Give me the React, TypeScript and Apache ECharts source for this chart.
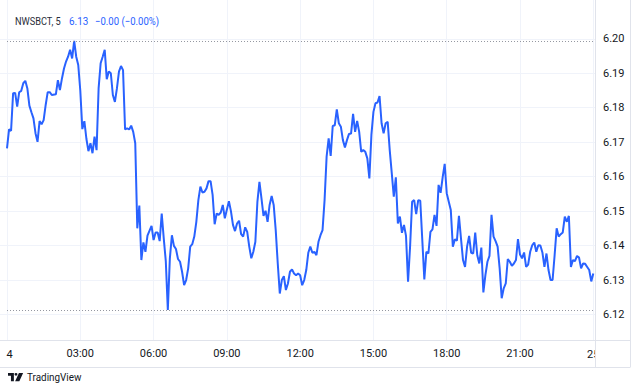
import React, { useEffect, useRef } from "react";
import * as echarts from "echarts";

const SYMBOL_LABEL = "NWSBCT, 5";
const LAST_PRICE = "6.13";
const CHANGE_LABEL = "\u22120.00 (\u22120.00%)";
const BRAND = "TradingView";
// time-axis labels, one every 36 five-minute bars (3 hours)
const TIME_LABELS = ["4", "03:00", "06:00", "09:00", "12:00", "15:00", "18:00", "21:00", "25"];
const BARS_PER_LABEL = 36;
const PRICE_MIN = 6.12;
const PRICE_MAX = 6.2;
const PRICE_STEP = 0.01;

// five-minute bar index since 00:00
const BARS = [
  0, 1, 2, 3, 4, 5, 6, 7, 8, 9, 10, 11, 12, 13, 14, 15, 16, 17, 18, 19, 20, 21, 22, 24, 25, 26, 27, 28, 29,
  30, 31, 32, 33, 34, 35, 36, 37, 38, 39, 40, 41, 42, 43, 44, 45, 46, 47, 48, 49, 50, 51, 52, 53, 54, 55, 56,
  57, 58, 59, 60, 61, 62, 63, 64, 65, 66, 67, 68, 69, 71, 72, 73, 74, 75, 76, 77, 78, 79, 80, 81, 82, 83, 84,
  85, 86, 87, 88, 89, 90, 91, 92, 93, 94, 95, 96, 97, 98, 99, 100, 101, 102, 103, 104, 105, 106, 107, 109,
  110, 111, 112, 113, 114, 115, 116, 117, 118, 119, 120, 121, 122, 123, 124, 125, 126, 127, 128, 129, 130,
  131, 132, 133, 134, 135, 136, 137, 138, 139, 140, 141, 142, 143, 144, 145, 146, 147, 148, 149, 150, 151,
  152, 153, 154, 155, 156, 157, 158, 159, 160, 161, 162, 163, 164, 165, 166, 167, 168, 169, 170, 171, 172,
  173, 174, 175, 176, 177, 178, 179, 180, 181, 182, 183, 184, 185, 186, 187, 188, 189, 190, 191, 192, 193,
  194, 195, 196, 197, 198, 199, 200, 201, 202, 203, 205, 206, 207, 208, 209, 210, 211, 212, 213, 214, 215,
  216, 217, 218, 219, 220, 221, 222, 223, 224, 225, 226, 227, 228, 229, 230, 231, 232, 233, 234, 235, 236,
  237, 238, 239, 240, 241, 242, 243, 244, 245, 246, 247, 248, 249, 250, 251, 252, 253, 254, 255, 256, 257,
  258, 259, 260, 261, 262, 263, 264, 265, 266, 267, 268, 269, 270, 271, 272, 273, 274, 275, 276, 277, 278,
  279, 280, 281, 282, 283, 284, 285, 286, 287, 288,
];

const PRICES = [
  6.1682, 6.1737, 6.1733, 6.1842, 6.1843, 6.1803, 6.1845, 6.1849, 6.1871, 6.1878, 6.1856, 6.1806, 6.1787,
  6.1769, 6.1726, 6.1701, 6.1761, 6.1752, 6.1764, 6.1808, 6.1845, 6.1845, 6.1837, 6.1839, 6.188, 6.1851,
  6.1885, 6.1914, 6.1934, 6.1948, 6.1968, 6.1943, 6.1994, 6.1948, 6.1924, 6.185, 6.1738, 6.1761, 6.171,
  6.1674, 6.1697, 6.1668, 6.1716, 6.1677, 6.1856, 6.1929, 6.1948, 6.1968, 6.1883, 6.1905, 6.19, 6.1837,
  6.1817, 6.1856, 6.1905, 6.1921, 6.1909, 6.1737, 6.174, 6.1737, 6.1748, 6.173, 6.1697, 6.145, 6.1516,
  6.1358, 6.1409, 6.1382, 6.1429, 6.1457, 6.1416, 6.1438, 6.1438, 6.1413, 6.1493, 6.1421, 6.1355, 6.1213,
  6.1363, 6.143, 6.1399, 6.139, 6.1361, 6.1353, 6.1324, 6.1285, 6.13, 6.1334, 6.1397, 6.1404, 6.1426,
  6.1469, 6.1532, 6.1571, 6.1554, 6.1556, 6.1566, 6.1587, 6.1587, 6.1547, 6.1462, 6.1493, 6.1489, 6.1496,
  6.1518, 6.1479, 6.1529, 6.15, 6.146, 6.1442, 6.1464, 6.1472, 6.1433, 6.1426, 6.1453, 6.144, 6.1397,
  6.1363, 6.1382, 6.1411, 6.1527, 6.1585, 6.1537, 6.1486, 6.1501, 6.1469, 6.1518, 6.1544, 6.1518, 6.1445,
  6.1348, 6.1261, 6.13, 6.1311, 6.1271, 6.129, 6.1324, 6.1331, 6.1319, 6.1314, 6.1319, 6.1314, 6.1285,
  6.13, 6.1329, 6.1379, 6.1397, 6.1379, 6.1382, 6.1372, 6.1411, 6.143, 6.1445, 6.1532, 6.1658, 6.1711,
  6.166, 6.1747, 6.1749, 6.1795, 6.1755, 6.1745, 6.1706, 6.1685, 6.1706, 6.1724, 6.1725, 6.1782, 6.173,
  6.1762, 6.173, 6.1672, 6.1677, 6.1672, 6.1653, 6.1595, 6.1721, 6.1788, 6.1813, 6.1815, 6.1834, 6.1755,
  6.1726, 6.1755, 6.1759, 6.1677, 6.161, 6.1542, 6.1598, 6.1464, 6.1484, 6.1437, 6.146, 6.1428, 6.1295,
  6.1397, 6.1527, 6.1532, 6.1491, 6.1532, 6.153, 6.1302, 6.1382, 6.1377, 6.144, 6.1447, 6.1489, 6.1457,
  6.1576, 6.1553, 6.1598, 6.1637, 6.1552, 6.1527, 6.1503, 6.1397, 6.1418, 6.1414, 6.1486, 6.1421, 6.1358,
  6.1338, 6.1397, 6.1428, 6.1379, 6.1377, 6.1438, 6.1372, 6.1348, 6.1394, 6.1264, 6.1314, 6.1353, 6.137,
  6.1489, 6.1426, 6.1413, 6.1397, 6.1334, 6.1247, 6.1276, 6.129, 6.1361, 6.1353, 6.1341, 6.1348, 6.1358,
  6.1419, 6.1374, 6.1363, 6.138, 6.1338, 6.1345, 6.1382, 6.1401, 6.1409, 6.1382, 6.1401, 6.14, 6.138,
  6.1338, 6.1377, 6.1329, 6.13, 6.13, 6.1372, 6.145, 6.1426, 6.1433, 6.1438, 6.1484, 6.1469, 6.1486,
  6.1338, 6.1358, 6.1355, 6.137, 6.1365, 6.1334, 6.1348, 6.1347, 6.1338, 6.1329, 6.1296, 6.1319,
];

const FONT = "Roboto, 'Noto Sans', sans-serif";
const TEXT_COLOR = "#131722";
const BLUE = "#2962FF";
const GRID_COLOR = "#F0F3FA";
const BORDER_COLOR = "#E0E3EB";

echarts.graphic.registerShape(
  "tvlogo",
  echarts.graphic.extendPath(
    "M0 0H14V22H7V7H0Z M15.5 3.5a3.5 3.5 0 1 0 7 0a3.5 3.5 0 1 0 -7 0Z M26 0H36L27 22H17Z",
    {}
  )
);

export default function App() {
  const ref = useRef<HTMLDivElement>(null);

  useEffect(() => {
    if (!ref.current) return;
    const chart = echarts.init(ref.current, undefined, { renderer: "svg" });

    const W = 640;
    const H = 391;
    const paneRight = 595; // right edge of plot pane
    const paneBottom = 340; // bottom edge of plot pane
    const x0 = 7; // pixel of bar 0
    const lastBar = TIME_LABELS.length - 1;
    const xEnd = 593.3; // pixel of last label bar
    const yTop = 38.8; // pixel of PRICE_MAX
    const yBottom = 314.5; // pixel of PRICE_MIN
    const pxPerBar = (xEnd - x0) / (lastBar * BARS_PER_LABEL);

    const data = BARS.map((b, i) => [b, PRICES[i]]);
    const hi = Math.max(...PRICES);
    const lo = Math.min(...PRICES);
    const firstBar = BARS[0];
    const endBar = BARS[BARS.length - 1];

    const legendText = (text: string, x: number, fill: string, sx: number) => ({
      type: "text",
      x,
      y: 21,
      z: 100,
      scaleX: sx,
      style: { text, fill, fontSize: 11, fontFamily: FONT, verticalAlign: "middle" },
    });

    const option: any = {
      animation: false,
      backgroundColor: "#ffffff",
      grid: [
        { left: x0, right: W - xEnd, top: 0, bottom: H - paneBottom, containLabel: false },
        { left: 0, right: W - paneRight, top: yTop, bottom: H - yBottom, containLabel: false },
      ],
      xAxis: [
        {
          type: "value",
          gridIndex: 0,
          min: 0,
          max: lastBar * BARS_PER_LABEL,
          interval: BARS_PER_LABEL,
          axisLine: { show: false },
          axisTick: { show: false },
          splitLine: { show: true, lineStyle: { color: GRID_COLOR, width: 1 } },
          axisLabel: {
            show: true,
            margin: 8,
            color: TEXT_COLOR,
            fontSize: 11,
            fontFamily: FONT,
            formatter: (v: number) => {
              const k = Math.round(v / BARS_PER_LABEL);
              if (k === 0 || k === lastBar) return "";
              return TIME_LABELS[k];
            },
          },
        },
        {
          type: "value",
          gridIndex: 1,
          min: -x0 / pxPerBar,
          max: (paneRight - x0) / pxPerBar,
          show: false,
          splitLine: { show: false },
        },
      ],
      yAxis: [
        { type: "value", gridIndex: 0, min: 0, max: 1, show: false, splitLine: { show: false } },
        {
          type: "value",
          gridIndex: 1,
          position: "right",
          min: PRICE_MIN,
          max: PRICE_MAX,
          interval: PRICE_STEP,
          axisLine: { show: false },
          axisTick: { show: false },
          splitLine: { show: true, lineStyle: { color: GRID_COLOR, width: 1 } },
          axisLabel: {
            margin: 8,
            color: TEXT_COLOR,
            fontSize: 11,
            fontFamily: FONT,
            formatter: (v: number) => v.toFixed(2),
          },
        },
      ],
      series: [
        {
          type: "line",
          xAxisIndex: 1,
          yAxisIndex: 1,
          data,
          showSymbol: false,
          symbol: "none",
          lineStyle: { color: BLUE, width: 2 },
          emphasis: { disabled: true },
          markLine: {
            silent: true,
            symbol: ["none", "none"],
            label: { show: false },
            lineStyle: { color: "#9598A1", type: [1, 2], width: 1 },
            emphasis: { disabled: true },
            data: [
              [{ coord: [firstBar, hi] }, { coord: [endBar, hi] }],
              [{ coord: [firstBar, lo] }, { coord: [endBar, lo] }],
            ],
          },
        },
      ],
      graphic: [
        legendText(SYMBOL_LABEL, 15, "#2A2E39", 0.84),
        legendText(LAST_PRICE, 69, BLUE, 0.9),
        legendText(CHANGE_LABEL, 95, BLUE, 0.87),
        {
          type: "text",
          x: 9.7,
          y: 354,
          z: 100,
          style: {
            text: TIME_LABELS[0],
            fill: TEXT_COLOR,
            fontSize: 11,
            fontFamily: FONT,
            align: "center",
            verticalAlign: "middle",
          },
        },
        {
          type: "text",
          x: xEnd,
          y: 354,
          z: 100,
          style: {
            text: TIME_LABELS[lastBar],
            fill: TEXT_COLOR,
            fontSize: 11,
            fontFamily: FONT,
            align: "center",
            verticalAlign: "middle",
          },
        },
        {
          type: "rect",
          z: 101,
          shape: { x: paneRight + 0.5, y: paneBottom + 1, width: 34, height: 26 },
          style: { fill: "#ffffff" },
        },
        {
          type: "line",
          z: 102,
          shape: { x1: 0, y1: paneBottom + 0.5, x2: 630, y2: paneBottom + 0.5 },
          style: { stroke: BORDER_COLOR, lineWidth: 1 },
        },
        {
          type: "line",
          z: 102,
          shape: { x1: 0, y1: 367.5, x2: 630, y2: 367.5 },
          style: { stroke: BORDER_COLOR, lineWidth: 1 },
        },
        {
          type: "line",
          z: 102,
          shape: { x1: paneRight + 0.5, y1: 0, x2: paneRight + 0.5, y2: 367.5 },
          style: { stroke: BORDER_COLOR, lineWidth: 1 },
        },
        {
          type: "line",
          z: 102,
          shape: { x1: 630.5, y1: 0, x2: 630.5, y2: 367.5 },
          style: { stroke: BORDER_COLOR, lineWidth: 1 },
        },
        {
          type: "tvlogo",
          x: 8,
          y: 373,
          scaleX: 0.42,
          scaleY: 0.38,
          z: 100,
          style: { fill: TEXT_COLOR },
        },
        {
          type: "text",
          x: 27,
          y: 377,
          z: 100,
          scaleX: 0.9,
          style: { text: BRAND, fill: TEXT_COLOR, fontSize: 11, fontFamily: FONT, verticalAlign: "middle" },
        },
      ],
    };

    chart.setOption(option);
    return () => chart.dispose();
  }, []);

  return (
    <div
      ref={ref}
      style={{ position: "fixed", left: 0, top: 0, width: 640, height: 391, background: "#fff" }}
    />
  );
}
